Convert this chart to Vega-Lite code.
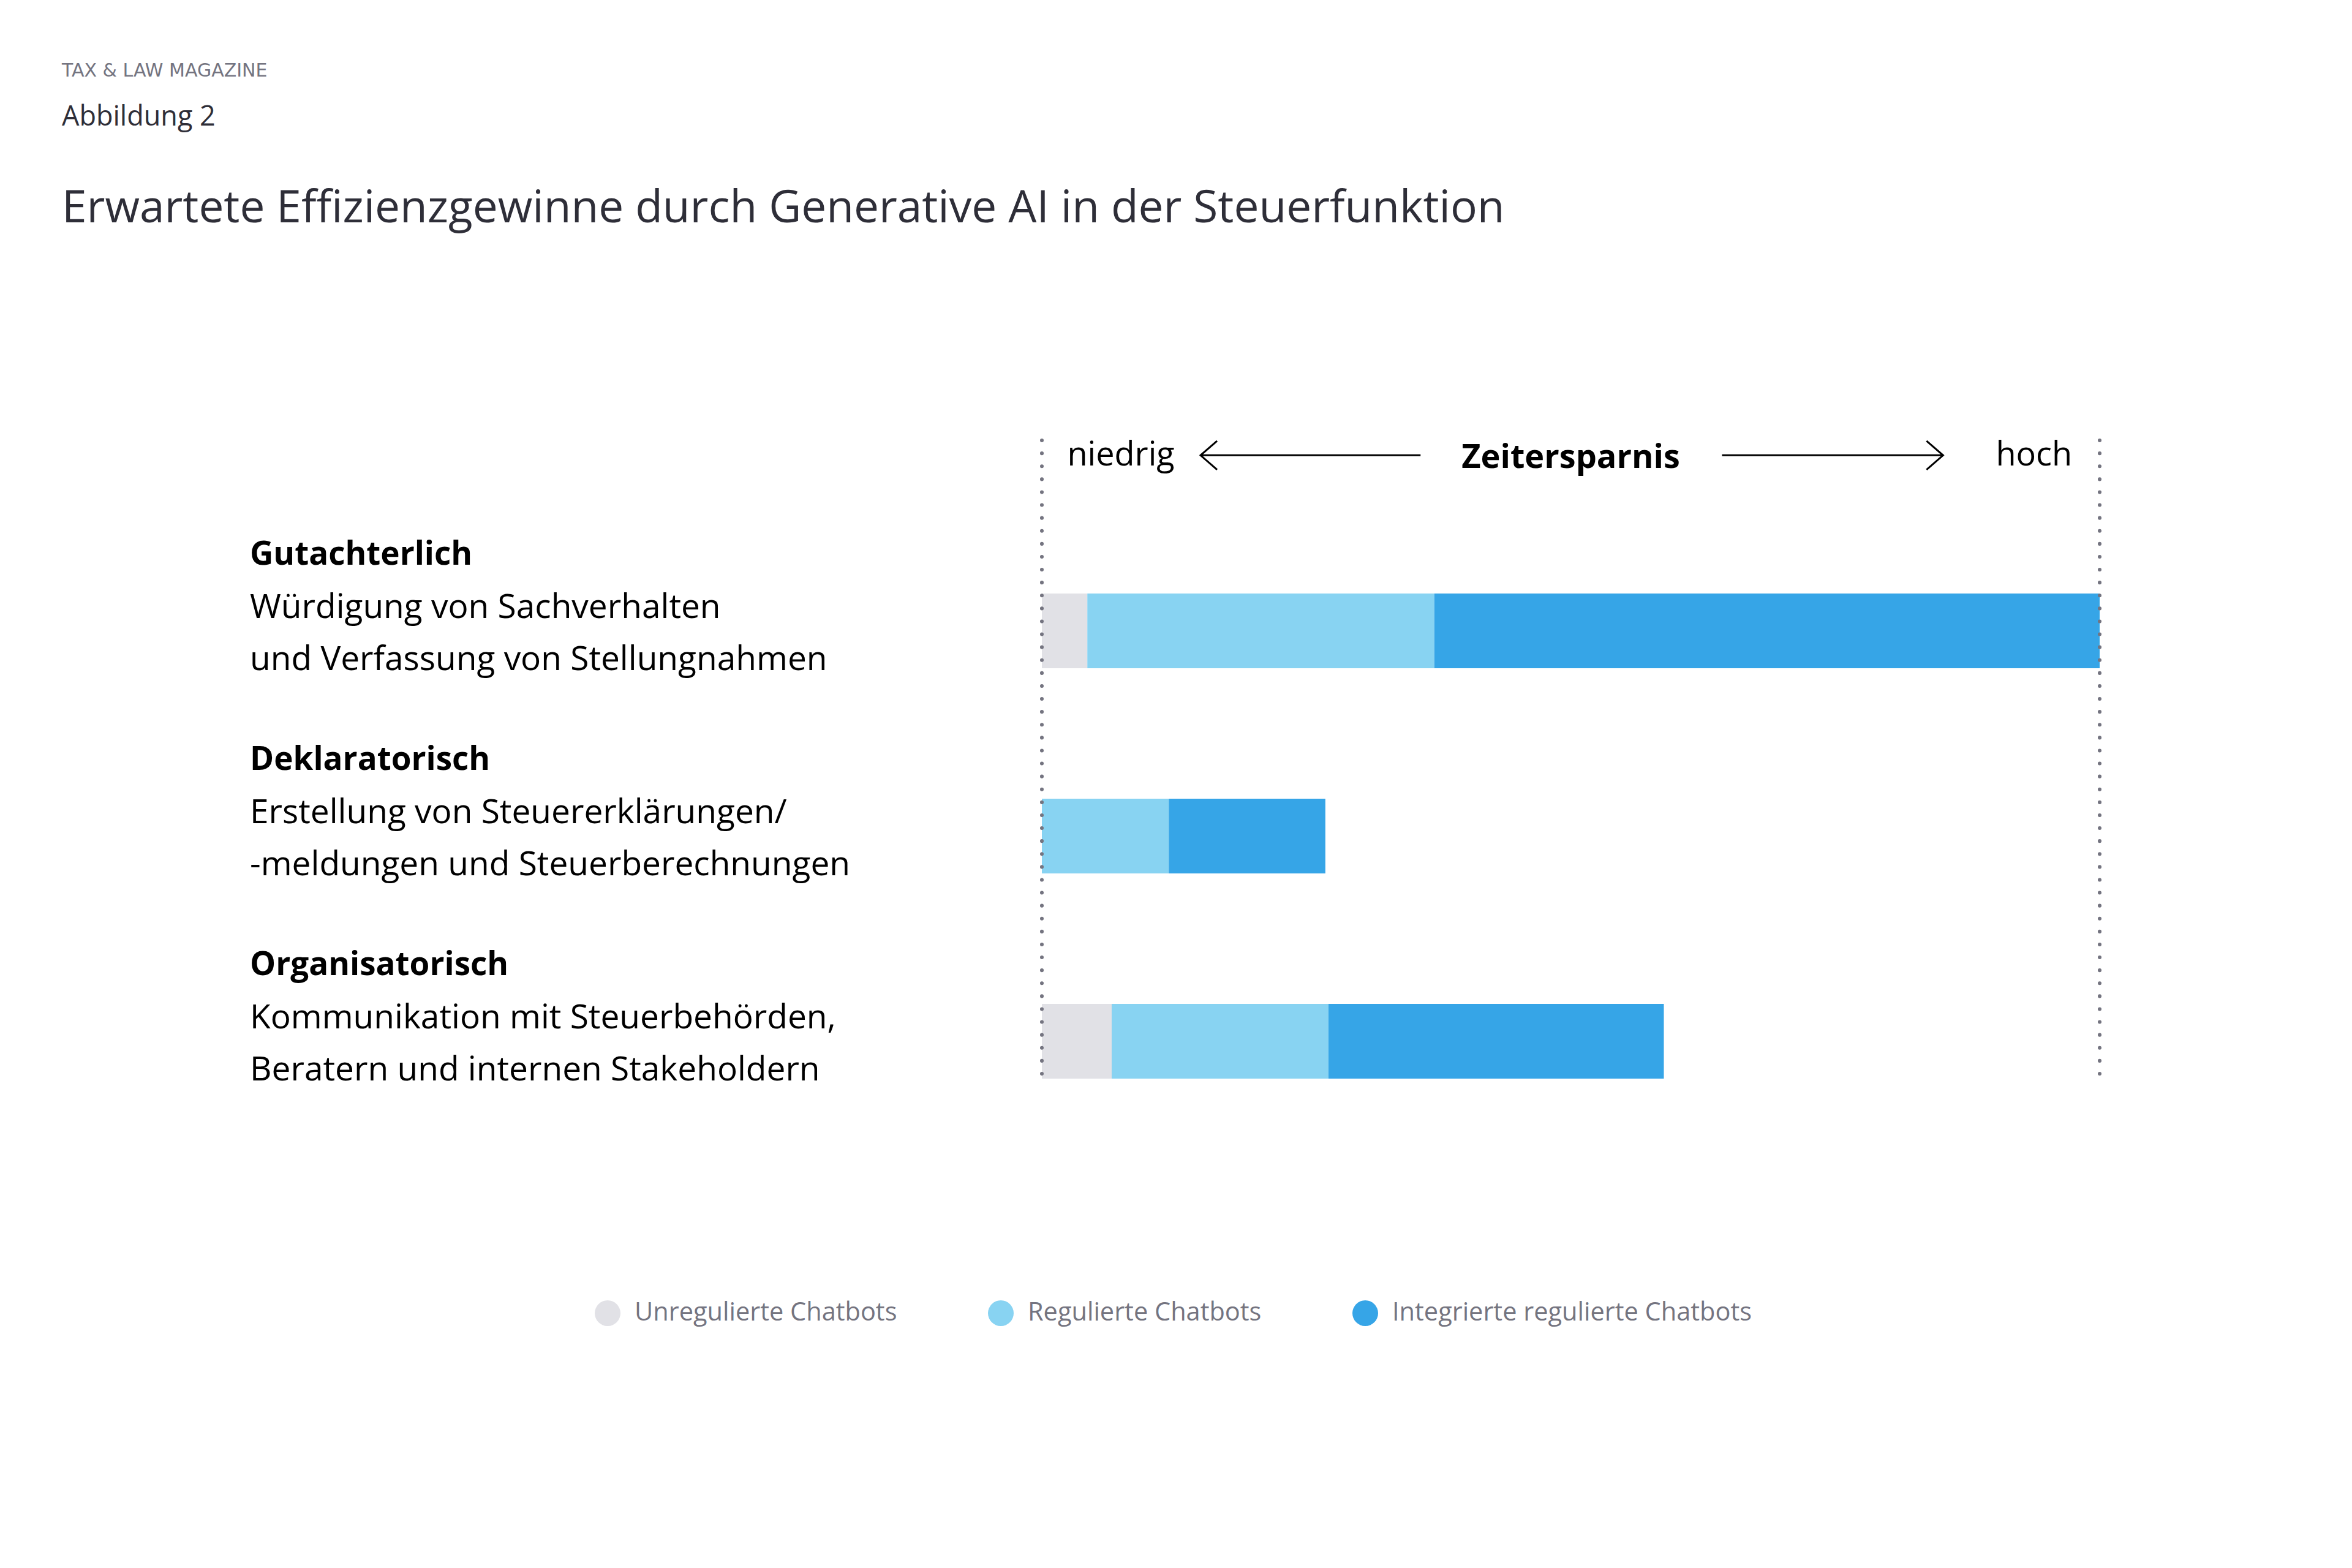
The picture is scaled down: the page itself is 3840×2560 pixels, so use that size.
{
  "$schema": "https://vega.github.io/schema/vega-lite/v6.json",
  "background": "white",
  "padding": {"left": 100, "top": 100, "right": 20, "bottom": 20},
  "title": {
    "text": "TAX & LAW MAGAZINE",
    "subtitle": "Abbildung 2",
    "anchor": "start",
    "frame": "bounds",
    "font": "DejaVu Sans",
    "fontSize": 30,
    "fontWeight": 400,
    "color": "#747480",
    "subtitleFont": "Open Sans",
    "subtitleFontSize": 45,
    "subtitleFontWeight": 400,
    "subtitleColor": "#2E2E38",
    "subtitlePadding": 38,
    "offset": 91
  },
  "datasets": {
    "bars": [
      {"cat": "Gutachterlich", "type": "Unregulierte Chatbots", "value": 4.3},
      {"cat": "Gutachterlich", "type": "Regulierte Chatbots", "value": 32.8},
      {"cat": "Gutachterlich", "type": "Integrierte regulierte Chatbots", "value": 62.9},
      {"cat": "Deklaratorisch", "type": "Regulierte Chatbots", "value": 12.0},
      {"cat": "Deklaratorisch", "type": "Integrierte regulierte Chatbots", "value": 14.8},
      {"cat": "Organisatorisch", "type": "Unregulierte Chatbots", "value": 6.6},
      {"cat": "Organisatorisch", "type": "Regulierte Chatbots", "value": 20.5},
      {"cat": "Organisatorisch", "type": "Integrierte regulierte Chatbots", "value": 31.7}
    ],
    "labels": [
      {"cat": "Gutachterlich", "title": "Gutachterlich", "desc": "Würdigung von Sachverhalten\nund Verfassung von Stellungnahmen"},
      {"cat": "Deklaratorisch", "title": "Deklaratorisch", "desc": "Erstellung von Steuererklärungen/\n-meldungen und Steuerberechnungen"},
      {"cat": "Organisatorisch", "title": "Organisatorisch", "desc": "Kommunikation mit Steuerbehörden,\nBeratern und internen Stakeholdern"}
    ]
  },
  "vconcat": [
    {
      "title": {
        "text": "Erwartete Effizienzgewinne durch Generative AI in der Steuerfunktion",
        "anchor": "start",
        "frame": "bounds",
        "font": "Open Sans",
        "fontSize": 73,
        "fontWeight": 400,
        "color": "#2E2E38",
        "dx": -307,
        "offset": 336
      },
      "width": 1727,
      "height": 1042,
      "layer": [
        {
          "data": {"name": "bars"},
          "mark": {"type": "bar", "cornerRadius": 0},
          "encoding": {
            "y": {
              "field": "cat",
              "type": "nominal",
              "scale": {"domain": ["Gutachterlich", "Deklaratorisch", "Organisatorisch"], "paddingInner": 0.636, "paddingOuter": 0.373, "align": 1},
              "axis": null
            },
            "x": {
              "field": "value",
              "type": "quantitative",
              "stack": "zero",
              "scale": {"domain": [0, 100], "nice": false, "zero": true},
              "axis": null
            },
            "order": {"field": "type", "sort": "descending"},
            "color": {
              "field": "type",
              "type": "nominal",
              "scale": {
                "domain": ["Unregulierte Chatbots", "Regulierte Chatbots", "Integrierte regulierte Chatbots"],
                "range": ["#E1E1E6", "#88D3F2", "#36A5E7"]
              },
              "legend": {
                "orient": "none",
                "legendX": -730,
                "legendY": 1404,
                "direction": "horizontal",
                "columns": 3,
                "title": null,
                "symbolType": "circle",
                "symbolSize": 1764,
                "symbolStrokeWidth": 0,
                "symbolOpacity": 1,
                "labelFont": "Open Sans",
                "labelFontSize": 41.5,
                "labelFontWeight": 400,
                "labelColor": "#747480",
                "labelOffset": 23,
                "columnPadding": 148,
                "padding": 0,
                "labelLimit": 0
              }
            }
          }
        },
        {
          "data": {"name": "labels"},
          "mark": {"type": "text", "align": "left", "baseline": "middle", "font": "Open Sans", "fontSize": 53, "fontWeight": "bold", "color": "#000000"},
          "encoding": {
            "x": {"datum": -74.87, "type": "quantitative"},
            "y": {"field": "cat", "type": "nominal", "bandPosition": -0.52},
            "text": {"field": "title"}
          }
        },
        {
          "data": {"name": "labels"},
          "mark": {"type": "text", "align": "left", "baseline": "middle", "font": "Open Sans", "fontSize": 55, "fontWeight": 400, "color": "#000000", "lineBreak": "\n", "lineHeight": 85},
          "encoding": {
            "x": {"datum": -74.87, "type": "quantitative"},
            "y": {"field": "cat", "type": "nominal", "bandPosition": 0.19},
            "text": {"field": "desc"}
          }
        },
        {
          "data": {"values": [{}]},
          "mark": {"type": "text", "text": "niedrig", "align": "left", "baseline": "alphabetic", "font": "Open Sans", "fontSize": 54, "fontWeight": 400, "color": "#000000"},
          "encoding": {
            "x": {"datum": 2.4, "type": "quantitative"},
            "y": {"datum": "Gutachterlich", "type": "nominal", "bandPosition": -1.71}
          }
        },
        {
          "data": {"values": [{}]},
          "mark": {"type": "text", "text": "hoch", "align": "right", "baseline": "alphabetic", "font": "Open Sans", "fontSize": 54, "fontWeight": 400, "color": "#000000"},
          "encoding": {
            "x": {"datum": 97.4, "type": "quantitative"},
            "y": {"datum": "Gutachterlich", "type": "nominal", "bandPosition": -1.71}
          }
        },
        {
          "data": {"values": [{}]},
          "mark": {"type": "text", "text": "Zeitersparnis", "align": "center", "baseline": "alphabetic", "font": "Open Sans", "fontSize": 54, "fontWeight": "bold", "color": "#000000"},
          "encoding": {
            "x": {"datum": 50.0, "type": "quantitative"},
            "y": {"datum": "Gutachterlich", "type": "nominal", "bandPosition": -1.68}
          }
        },
        {
          "data": {"values": [{}]},
          "mark": {"type": "rule", "strokeWidth": 3, "color": "#000000"},
          "encoding": {
            "x": {"datum": 15.0, "type": "quantitative"},
            "x2": {"datum": 35.8},
            "y": {"datum": "Gutachterlich", "type": "nominal", "bandPosition": -1.85}
          }
        },
        {
          "data": {"values": [{}]},
          "mark": {"type": "rule", "strokeWidth": 3, "color": "#000000"},
          "encoding": {
            "x": {"datum": 64.3, "type": "quantitative"},
            "x2": {"datum": 85.2},
            "y": {"datum": "Gutachterlich", "type": "nominal", "bandPosition": -1.85}
          }
        },
        {
          "data": {"values": [{}]},
          "mark": {"type": "point", "shape": "M1.15,-1L0,0L1.15,1", "size": 2209, "filled": false, "strokeWidth": 3, "color": "#000000", "opacity": 1},
          "encoding": {
            "x": {"datum": 15.0, "type": "quantitative"},
            "y": {"datum": "Gutachterlich", "type": "nominal", "bandPosition": -1.85}
          }
        },
        {
          "data": {"values": [{}]},
          "mark": {"type": "point", "shape": "M-1.15,-1L0,0L-1.15,1", "size": 2209, "filled": false, "strokeWidth": 3, "color": "#000000", "opacity": 1},
          "encoding": {
            "x": {"datum": 85.2, "type": "quantitative"},
            "y": {"datum": "Gutachterlich", "type": "nominal", "bandPosition": -1.85}
          }
        },
        {
          "data": {"values": [{}]},
          "mark": {"type": "rule", "strokeDash": [0.1, 21], "strokeWidth": 6, "strokeCap": "round", "color": "#747480"},
          "encoding": {"x": {"datum": 0, "type": "quantitative"}}
        },
        {
          "data": {"values": [{}]},
          "mark": {"type": "rule", "strokeDash": [0.1, 21], "strokeWidth": 6, "strokeCap": "round", "color": "#747480"},
          "encoding": {"x": {"datum": 100, "type": "quantitative"}}
        }
      ]
    }
  ],
  "config": {
    "view": {"stroke": null},
    "concat": {"spacing": 0}
  }
}
